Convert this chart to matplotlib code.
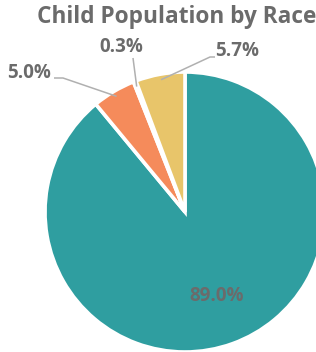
import numpy as np
import matplotlib
matplotlib.use("Agg")
import matplotlib.pyplot as plt

title = "Child Population by Race"
categories = ["Group A", "Group B", "Group C", "Group D"]
values = [89.0, 5.0, 0.3, 5.7]
labels = ["89.0%", "5.0%", "0.3%", "5.7%"]
colors = ["#2f9ea0", "#f58b5b", "#ffffff", "#e8c56a"]

W, H = 316, 352
fig = plt.figure(figsize=(W / 100, H / 100), dpi=100)
ax = fig.add_axes([0, 0, 1, 1])

cx, cy, r = 185, H - 212, 140
wedges, _ = ax.pie(values, colors=colors, startangle=90, counterclock=False,
                   center=(cx, cy), radius=r, frame=True,
                   wedgeprops=dict(edgecolor="white", linewidth=2.6))
ax.set_xlim(0, W)
ax.set_ylim(0, H)
ax.axis("off")

txt_col = "#6b6b6b"
line_col = "#b0b0b0"
font = "Open Sans"

fig.text(177 / W, 1 - 17 / H, title, ha="center", va="center",
         fontsize=16.3, fontweight="bold", color=txt_col, family=font)

def edge_point(w, frac=1.0):
    ang = np.deg2rad((w.theta1 + w.theta2) / 2)
    return cx + r * frac * np.cos(ang), cy + r * frac * np.sin(ang)

ax.text(217, H - 296, labels[0], ha="center", va="center", fontsize=13.5,
        fontweight="bold", color=txt_col, family=font)

outside = {
    1: ((29, H - 73), [(54, H - 78), (63, H - 78)]),
    2: ((121, H - 47), [(133, H - 58)]),
    3: ((237, H - 51), [(215, H - 57), (210, H - 57)]),
}
for i, (tpos, pts) in outside.items():
    ex, ey = edge_point(wedges[i], 0.96)
    xs = [p[0] for p in pts] + [ex]
    ys = [p[1] for p in pts] + [ey]
    ax.plot(xs, ys, color=line_col, lw=1.1, solid_capstyle="butt")
    ax.text(tpos[0], tpos[1], labels[i], ha="center", va="center", fontsize=13.5,
            fontweight="bold", color=txt_col, family=font)

fig.savefig("out.png", dpi=100)
